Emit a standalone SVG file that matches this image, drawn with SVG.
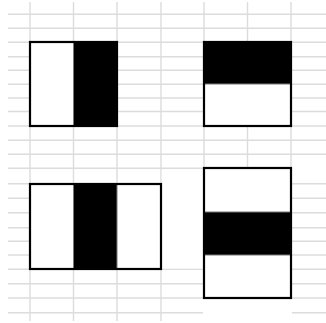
<svg xmlns="http://www.w3.org/2000/svg" width="326" height="323" viewBox="0 0 326 323">
<style>
.g line{stroke:#dcdcdc;stroke-width:1.4}
.w{fill:#fff}
.b{fill:#000}
.frame{fill:none;stroke:#000;stroke-width:2.2}
.div{stroke:#777;stroke-width:1}
</style>
<rect width="326" height="323" fill="#fff"/>
<g id="grid" class="g">
<line x1="30" y1="2" x2="30" y2="321"/>
<line x1="73.5" y1="2" x2="73.5" y2="321"/>
<line x1="117" y1="2" x2="117" y2="321"/>
<line x1="161" y1="2" x2="161" y2="321"/>
<line x1="204" y1="2" x2="204" y2="321"/>
<line x1="247.5" y1="2" x2="247.5" y2="321"/>
<line x1="291" y1="2" x2="291" y2="321"/>
<line x1="8" y1="14.3" x2="326" y2="14.3"/>
<line x1="8" y1="28.3" x2="326" y2="28.3"/>
<line x1="8" y1="42.3" x2="326" y2="42.3"/>
<line x1="8" y1="56.7" x2="326" y2="56.7"/>
<line x1="8" y1="70.3" x2="326" y2="70.3"/>
<line x1="8" y1="84.3" x2="326" y2="84.3"/>
<line x1="8" y1="98" x2="326" y2="98"/>
<line x1="8" y1="111.5" x2="326" y2="111.5"/>
<line x1="8" y1="126" x2="326" y2="126"/>
<line x1="8" y1="140.3" x2="326" y2="140.3"/>
<line x1="8" y1="154.3" x2="326" y2="154.3"/>
<line x1="8" y1="168.3" x2="204" y2="168.3"/>
<line x1="8" y1="183.7" x2="326" y2="183.7"/>
<line x1="8" y1="198.3" x2="326" y2="198.3"/>
<line x1="8" y1="212.7" x2="326" y2="212.7"/>
<line x1="8" y1="227.7" x2="326" y2="227.7"/>
<line x1="8" y1="241.3" x2="326" y2="241.3"/>
<line x1="8" y1="255" x2="326" y2="255"/>
<line x1="8" y1="269.3" x2="326" y2="269.3"/>
<line x1="8" y1="283.7" x2="326" y2="283.7"/>
<line x1="8" y1="298" x2="326" y2="298"/>
<line x1="8" y1="312.7" x2="326" y2="312.7"/>
</g>
<rect x="161.8" y="169" width="41.5" height="99.5" fill="#fff"/>
<rect x="203" y="298" width="89" height="25" fill="#fff"/>
<g id="feature-1">
<rect class="w" x="30" y="42" width="43.5" height="84"/>
<rect class="b" x="73.5" y="42" width="43.5" height="84"/>
<line class="div" x1="73.5" y1="42" x2="73.5" y2="126"/>
<rect class="frame" x="30" y="42" width="87" height="84"/>
</g>
<g id="feature-2">
<rect class="b" x="204" y="42" width="87" height="42"/>
<rect class="w" x="204" y="84" width="87" height="42"/>
<line class="div" x1="204" y1="84" x2="291" y2="84"/>
<rect class="frame" x="204" y="42" width="87" height="84"/>
</g>
<g id="feature-3">
<rect class="w" x="30" y="184" width="43.5" height="85"/>
<rect class="b" x="73.5" y="184" width="43.5" height="85"/>
<rect class="w" x="117" y="184" width="44" height="85"/>
<line class="div" x1="73.5" y1="184" x2="73.5" y2="269"/>
<line class="div" x1="117" y1="184" x2="117" y2="269"/>
<rect class="frame" x="30" y="184" width="131" height="85"/>
</g>
<g id="feature-4">
<rect class="w" x="204" y="168" width="87" height="44"/>
<rect class="b" x="204" y="212" width="87" height="43"/>
<rect class="w" x="204" y="255" width="87" height="43"/>
<line class="div" x1="204" y1="212" x2="291" y2="212"/>
<line class="div" x1="204" y1="255" x2="291" y2="255"/>
<rect class="frame" x="204" y="168" width="87" height="130"/>
</g>
</svg>
